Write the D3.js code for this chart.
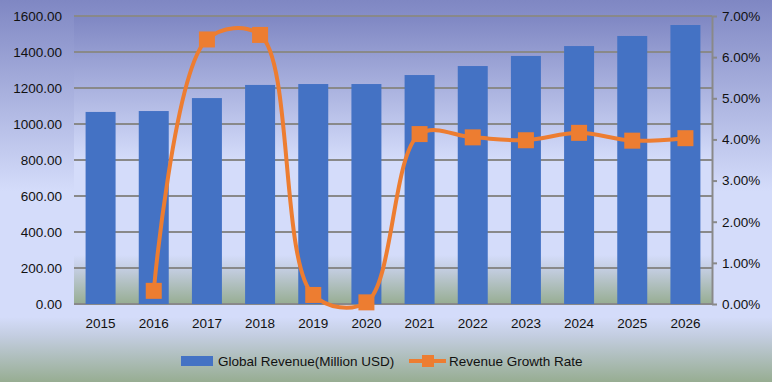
<!DOCTYPE html>
<html>
<head>
<meta charset="utf-8">
<script src="https://cdn.jsdelivr.net/npm/d3@7/dist/d3.min.js"></script>
<style>
  html, body { margin: 0; padding: 0; background: #fff; }
  svg { display: block; }
  text { font-family: "Liberation Sans", Arial, sans-serif; fill: #111; }
</style>
</head>
<body>
<svg id="chart" width="772" height="382"></svg>
<script>
const years = ["2015","2016","2017","2018","2019","2020","2021","2022","2023","2024","2025","2026"];
const revenue = [1067, 1072, 1144, 1217, 1222, 1222, 1272, 1322, 1378, 1433, 1489, 1550];
const growth = [null, 0.32, 6.43, 6.54, 0.22, 0.04, 4.13, 4.05, 3.98, 4.16, 3.97, 4.03];
const leftTicks = [0, 200, 400, 600, 800, 1000, 1200, 1400, 1600];
const rightTicks = [0, 1, 2, 3, 4, 5, 6, 7];
const seriesNames = ["Global Revenue(Million USD)", "Revenue Growth Rate"];

const W = 772, H = 382;
const plot = { left: 74, right: 712, top: 16, bottom: 304 };
const svg = d3.select("#chart");

const defs = svg.append("defs");
function grad(id) {
  const g = defs.append("linearGradient").attr("id", id)
    .attr("x1", 0).attr("y1", 0).attr("x2", 0).attr("y2", 1);
  [[0, "#7f87c3"], [0.5, "#d4dcfa"], [0.83, "#d4dcfa"], [0.88, "#c3cde0"], [1, "#97ad92"]]
    .forEach(([o, c]) => g.append("stop").attr("offset", o).attr("stop-color", c));
}
grad("bgOuter");
grad("bgPlot");

svg.append("rect").attr("width", W).attr("height", H).attr("fill", "url(#bgOuter)");
svg.append("rect").attr("x", plot.left).attr("y", plot.top)
  .attr("width", plot.right - plot.left).attr("height", plot.bottom - plot.top)
  .attr("fill", "url(#bgPlot)");

const x = d3.scaleBand().domain(years).range([plot.left, plot.right])
  .paddingInner(0.436).paddingOuter(0.218);
const yL = d3.scaleLinear().domain([0, 1600]).range([plot.bottom, plot.top]);
const yR = d3.scaleLinear().domain([0, 7]).range([plot.bottom, plot.top]);

// gridlines
svg.append("g").selectAll("line").data(leftTicks).join("line")
  .attr("x1", plot.left).attr("x2", plot.right)
  .attr("y1", d => yL(d)).attr("y2", d => yL(d))
  .attr("stroke", "#898989").attr("stroke-width", 2);

// left axis labels
const axL = svg.append("g").attr("transform", `translate(${plot.left},0)`)
  .call(d3.axisLeft(yL).tickValues(leftTicks).tickFormat(d3.format(".2f")).tickSize(0).tickPadding(12));
axL.select(".domain").remove();
axL.selectAll("text").attr("font-size", 13.5).attr("fill", "#111")
  .attr("font-family", "Liberation Sans, Arial, sans-serif");

// right axis
const axR = svg.append("g").attr("transform", `translate(${plot.right},0)`)
  .call(d3.axisRight(yR).tickValues(rightTicks).tickFormat(d => d3.format(".2f")(d) + "%").tickSizeInner(5).tickSizeOuter(0).tickPadding(5));
axR.select(".domain").attr("stroke", "#898989").attr("stroke-width", 2);
axR.selectAll(".tick line").attr("stroke", "#898989").attr("stroke-width", 2);
axR.selectAll("text").attr("font-size", 13.5).attr("fill", "#111")
  .attr("font-family", "Liberation Sans, Arial, sans-serif");

// bars
svg.append("g").selectAll("rect").data(years).join("rect")
  .attr("x", d => x(d)).attr("width", x.bandwidth())
  .attr("y", (d, i) => yL(revenue[i])).attr("height", (d, i) => yL(0) - yL(revenue[i]))
  .attr("fill", "#4472c4");

// bottom axis labels
const axB = svg.append("g").attr("transform", `translate(0,${plot.bottom})`)
  .call(d3.axisBottom(x).tickSize(0).tickPadding(14));
axB.select(".domain").remove();
axB.selectAll("text").attr("font-size", 13.5).attr("fill", "#111")
  .attr("font-family", "Liberation Sans, Arial, sans-serif");

// growth line
const pts = years.map((d, i) => ({ year: d, v: growth[i] })).filter(p => p.v !== null);
const line = d3.line().x(p => x(p.year) + x.bandwidth() / 2).y(p => yR(p.v))
  .curve(d3.curveCatmullRom.alpha(0.5));
svg.append("path").datum(pts).attr("d", line)
  .attr("fill", "none").attr("stroke", "#ed7d31").attr("stroke-width", 4)
  .attr("stroke-linejoin", "round");
const ms = 16;
svg.append("g").selectAll("rect").data(pts).join("rect")
  .attr("x", p => x(p.year) + x.bandwidth() / 2 - ms / 2)
  .attr("y", p => yR(p.v) - ms / 2)
  .attr("width", ms).attr("height", ms).attr("fill", "#ed7d31");

// legend
const lg = svg.append("g");
lg.append("rect").attr("x", 181).attr("y", 356).attr("width", 32).attr("height", 10).attr("fill", "#4472c4");
lg.append("text").attr("x", 218).attr("y", 366).attr("font-size", 13.5).text(seriesNames[0]);
lg.append("line").attr("x1", 409).attr("x2", 446).attr("y1", 361).attr("y2", 361)
  .attr("stroke", "#ed7d31").attr("stroke-width", 4);
lg.append("rect").attr("x", 422).attr("y", 355).attr("width", 12).attr("height", 12).attr("fill", "#ed7d31");
lg.append("text").attr("x", 449).attr("y", 366).attr("font-size", 13.5).text(seriesNames[1]);
</script>
</body>
</html>
